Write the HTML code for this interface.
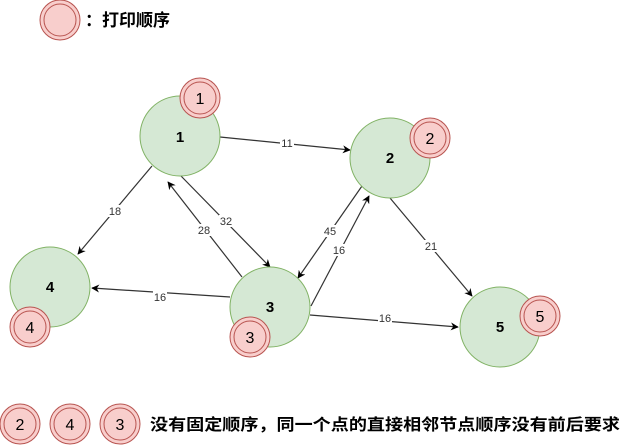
<!DOCTYPE html>
<html><head><meta charset="utf-8"><style>body{margin:0;background:#fff}svg{display:block}</style></head>
<body>
<svg width="631" height="448" viewBox="0 0 631 448" xmlns="http://www.w3.org/2000/svg" font-family="'Liberation Sans','Noto Sans CJK SC',sans-serif">
<defs>
<marker id="a" viewBox="0 0 10 10" refX="9" refY="5" markerWidth="8" markerHeight="8" orient="auto" markerUnits="userSpaceOnUse"><path d="M0,0 L10,5 L0,10 L3,5 Z" fill="#000"/></marker>
<g id="b"><circle r="20" fill="#f8cecc" stroke="#b85450"/><circle r="16" fill="none" stroke="#b85450"/></g>
</defs>
<g stroke="#333" stroke-width="1.2" fill="none" marker-end="url(#a)">
<line x1="220" y1="137" x2="350" y2="150"/>
<line x1="152" y1="166" x2="78" y2="254"/>
<line x1="181" y1="176" x2="270" y2="267"/>
<line x1="242" y1="277" x2="168" y2="182"/>
<line x1="362" y1="186" x2="298" y2="278"/>
<line x1="311" y1="306" x2="369" y2="196"/>
<line x1="230" y1="297" x2="92" y2="288"/>
<line x1="310" y1="315" x2="458" y2="327"/>
<line x1="390" y1="198" x2="472" y2="296"/>
</g>
<g font-size="11" text-anchor="middle" fill="#333">
<g fill="#fff"><rect x="280" y="137" width="14" height="12"/><rect x="108" y="205" width="14" height="12"/><rect x="219" y="215" width="14" height="12"/><rect x="197" y="224" width="14" height="12"/><rect x="323" y="225" width="14" height="12"/><rect x="332" y="244" width="14" height="12"/><rect x="153" y="291" width="14" height="12"/><rect x="378" y="312" width="14" height="12"/><rect x="424" y="240" width="14" height="12"/></g>
<text x="287" y="147">11</text><text x="115" y="215">18</text><text x="226" y="225">32</text><text x="204" y="234">28</text><text x="330" y="235">45</text><text x="339" y="254">16</text><text x="160" y="301">16</text><text x="385" y="322">16</text><text x="431" y="250">21</text>
</g>
<g fill="#d5e8d4" stroke="#82b366">
<circle cx="180" cy="136" r="40"/><circle cx="390" cy="158" r="40"/><circle cx="50" cy="287" r="40"/><circle cx="270" cy="307" r="40"/><circle cx="500" cy="327" r="40"/>
</g>
<g font-size="15" font-weight="bold" text-anchor="middle">
<text x="180" y="142">1</text><text x="390" y="163">2</text><text x="50" y="292">4</text><text x="270" y="312">3</text><text x="500" y="332">5</text>
</g>
<use href="#b" x="60" y="20"/>
<use href="#b" x="200" y="98"/><use href="#b" x="430" y="138"/><use href="#b" x="30" y="327"/><use href="#b" x="250" y="337"/><use href="#b" x="540" y="316"/>
<use href="#b" x="20" y="424"/><use href="#b" x="70" y="424"/><use href="#b" x="120" y="424"/>
<g font-size="16" text-anchor="middle" fill="#000">
<text x="200" y="104">1</text><text x="430" y="144">2</text><text x="30" y="333">4</text><text x="250" y="343">3</text><text x="540" y="322">5</text>
<text x="20" y="430">2</text><text x="70" y="430">4</text><text x="120" y="430">3</text>
</g>
<text x="85" y="26" font-size="17" font-weight="bold">：打印顺序</text>
<text x="150" y="430" font-size="16" font-weight="bold" textLength="470" lengthAdjust="spacingAndGlyphs">没有固定顺序，同一个点的直接相邻节点顺序没有前后要求</text>
</svg>
</body></html>
